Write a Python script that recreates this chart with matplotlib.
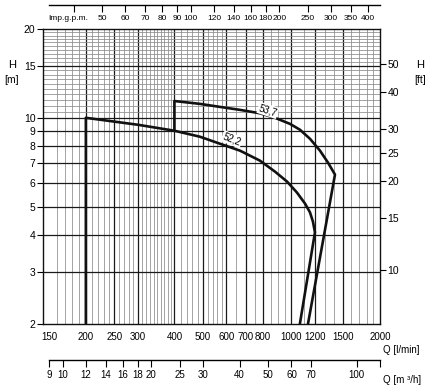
import numpy as np
import matplotlib
matplotlib.use('Agg')
import matplotlib.pyplot as plt
from matplotlib.ticker import NullFormatter, NullLocator

plt.rcParams['font.family'] = ['Liberation Sans Narrow', 'Liberation Sans', 'DejaVu Sans']

# pump curves, Q in l/min, H in m
q_522 = [200, 200, 301, 400, 488, 571, 668, 781, 879, 966, 1044, 1112, 1156, 1183, 1202, 1068]
h_522 = [2.0, 10.0, 9.47, 9.04, 8.63, 8.17, 7.74, 7.16, 6.57, 6.08, 5.58, 5.12, 4.78, 4.45, 4.09, 2.0]
q_537 = [400, 400, 488, 571, 668, 781, 879, 988, 1069, 1156, 1250, 1331, 1406, 1138]
h_537 = [9.04, 11.4, 11.15, 10.89, 10.64, 10.36, 10.0, 9.54, 9.11, 8.49, 7.74, 7.05, 6.42, 2.0]

# axis ticks
q_ticks = [150, 200, 250, 300, 400, 500, 600, 700, 800, 1000, 1200, 1500, 2000]
h_ticks = [2, 3, 4, 5, 6, 7, 8, 9, 10, 15, 20]
ft_ticks = [10, 15, 20, 25, 30, 40, 50]
gpm_ticks = [40, 50, 60, 70, 80, 90, 100, 120, 140, 160, 180, 200, 250, 300, 350, 400]
m3h_ticks = [9, 10, 12, 14, 16, 18, 20, 25, 30, 40, 50, 60, 70, 100, 120]

L_PER_GAL = 4.546
M_PER_FT = 0.3048

W, H = 430, 388
fig = plt.figure(figsize=(W / 100, H / 100), dpi=100)


def fx(px):
    return px / W


def fy(py):
    return 1 - py / H


x0, x1, y0, y1 = 43, 380, 29, 324
ax = fig.add_axes([fx(x0), fy(y1), fx(x1) - fx(x0), fy(y0) - fy(y1)])
ax.set_xscale('log')
ax.set_yscale('log')
ax.set_xlim(143, 2000)
ax.set_ylim(2, 20)

# grid
minor_x = list(range(160, 400, 10)) + list(range(420, 600, 20)) + \
    list(range(650, 1000, 50)) + list(range(1100, 2000, 100))
major_x = [200, 250, 300, 400, 500, 600, 700, 800, 1000, 1200, 1500]
for q in minor_x:
    if q not in major_x:
        ax.axvline(q, color='#8a8a8a', lw=0.55, zorder=1)
for q in major_x:
    ax.axvline(q, color='#1a1a1a', lw=0.9, zorder=1)
for h in np.arange(10.5, 20, 0.5):
    if h != 15:
        ax.axhline(h, color='#8a8a8a', lw=0.55, zorder=1)
for h in [3, 4, 5, 6, 7, 8, 9, 10, 15]:
    ax.axhline(h, color='#1a1a1a', lw=0.9, zorder=1)

ax.plot(q_522, h_522, color='#111111', lw=1.9, zorder=3)
ax.plot(q_537, h_537, color='#111111', lw=1.9, zorder=3)
box = dict(fc='white', ec='none', pad=0.6)
ax.text(832, 10.6, '53,7', rotation=-18, ha='center', va='center',
        fontsize=7, bbox=box, zorder=4)
ax.text(628, 8.45, '52,2', rotation=-22, ha='center', va='center',
        fontsize=7, bbox=box, zorder=4)

ax.set_xticks(q_ticks)
ax.set_xticklabels([str(v) for v in q_ticks])
ax.xaxis.set_minor_locator(NullLocator())
ax.set_yticks(h_ticks)
ax.set_yticklabels([str(v) for v in h_ticks])
ax.yaxis.set_minor_locator(NullLocator())
ax.tick_params(axis='x', length=0, pad=6, labelsize=7)
ax.tick_params(axis='y', length=4, width=0.8, pad=1.5, labelsize=7.5)
for s in ax.spines.values():
    s.set_linewidth(1.0)
    s.set_color('#111111')

# right axis in feet
ax2 = ax.twinx()
ax2.set_yscale('log')
ax2.set_ylim(2 / M_PER_FT, 20 / M_PER_FT)
ax2.set_yticks(ft_ticks)
ax2.set_yticklabels([str(v) for v in ft_ticks])
ax2.yaxis.set_minor_locator(NullLocator())
ax2.yaxis.set_minor_formatter(NullFormatter())
ax2.tick_params(axis='y', length=4, width=0.8, pad=1.5, labelsize=7.5)
for s in ax2.spines.values():
    s.set_visible(False)


def side_axis(py, ticks, labels, conv, size):
    a = fig.add_axes([fx(x0), fy(py), fx(x1) - fx(x0), 1e-4])
    a.set_xscale('log')
    a.set_xlim(143, 2000)
    a.set_yticks([])
    a.patch.set_visible(False)
    for s in ['top', 'left', 'right']:
        a.spines[s].set_visible(False)
    a.spines['bottom'].set_bounds(150, 2000)
    a.spines['bottom'].set_linewidth(1.0)
    a.set_xticks([t * conv for t in ticks])
    a.set_xticklabels(labels)
    a.xaxis.set_minor_locator(NullLocator())
    a.tick_params(axis='x', length=5, width=0.8, direction='out', pad=2,
                  labelsize=size)
    return a


side_axis(5, gpm_ticks, [''] + [str(v) for v in gpm_ticks[1:]], L_PER_GAL, 6)
side_axis(360, m3h_ticks, [str(v) for v in m3h_ticks[:-1]] + [''], 1000 / 60, 7)

fig.text(fx(68), fy(18), 'Imp.g.p.m.', ha='center', va='center', fontsize=6)
fig.text(fx(12), fy(65), 'H', ha='center', va='center', fontsize=8)
fig.text(fx(12), fy(80), '[m]', ha='center', va='center', fontsize=7.5)
fig.text(fx(420), fy(65), 'H', ha='center', va='center', fontsize=8)
fig.text(fx(420), fy(80), '[ft]', ha='center', va='center', fontsize=7.5)
fig.text(fx(383), fy(350), 'Q [l/min]', ha='left', va='center', fontsize=7)
fig.text(fx(383), fy(380), 'Q [m ³/h]', ha='left', va='center', fontsize=7)

fig.savefig('out.png', dpi=100)
